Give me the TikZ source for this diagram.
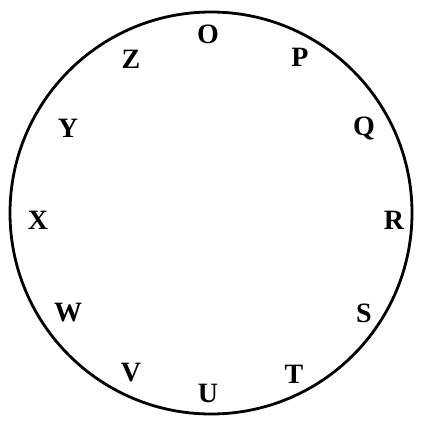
\documentclass[tikz,border=0pt]{standalone}
\usepackage{fontspec}
\setmainfont{Liberation Serif}
\begin{document}
\begin{tikzpicture}[x=1pt,y=-1pt,
  lbl/.style={font=\fontsize{28}{28}\selectfont\bfseries, inner sep=0pt, anchor=center}]
\useasboundingbox (0,0) rectangle (429,433);
\node[draw, line width=2.8pt, circle, minimum size=402pt, inner sep=0pt] (ring) at (211,213) {};
\node[lbl] (o) at (208,34) {O};
\node[lbl] (p) at (300,57) {P};
\node[lbl] (q) at (364,128) {Q};
\node[lbl] (r) at (394,220) {R};
\node[lbl] (s) at (364,313) {S};
\node[lbl] (t) at (294,374) {T};
\node[lbl] (u) at (208,393) {U};
\node[lbl] (v) at (131,373) {V};
\node[lbl] (w) at (68,313) {W};
\node[lbl] (x) at (38,220) {X};
\node[lbl] (y) at (68,128) {Y};
\node[lbl] (z) at (131,59) {Z};
\end{tikzpicture}
\end{document}
